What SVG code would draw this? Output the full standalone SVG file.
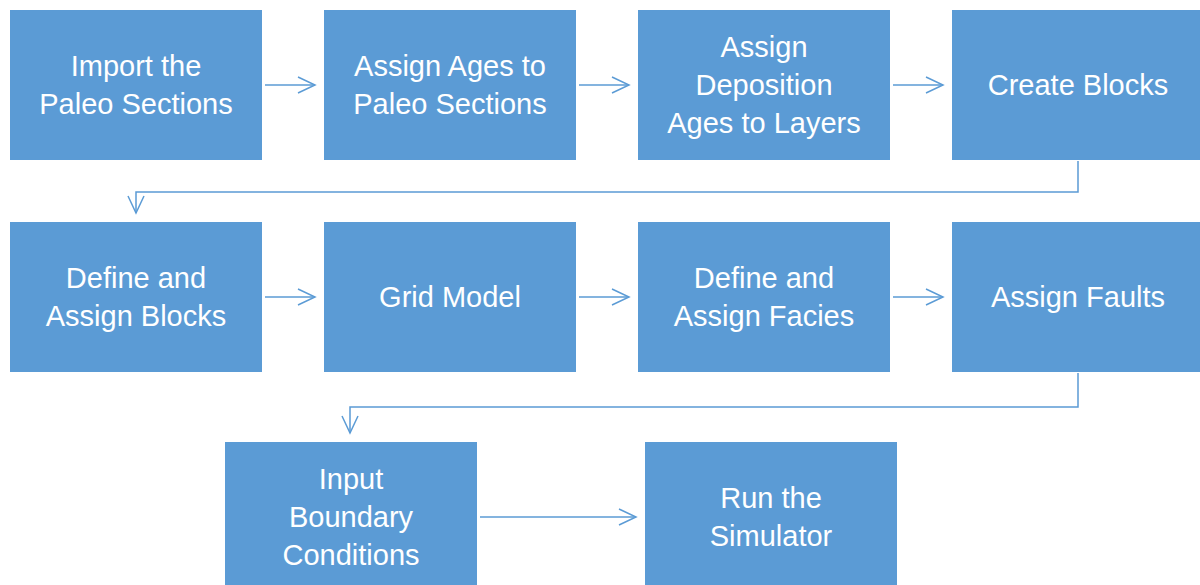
<svg xmlns="http://www.w3.org/2000/svg" width="1200" height="585" viewBox="0 0 1200 585">
<defs>
<style>
.box{fill:#5B9BD5}
.t{font-family:"Liberation Sans",Arial,sans-serif;font-size:29px;fill:#FFFFFF;text-anchor:middle}
.c{fill:none;stroke:#5B9BD5;stroke-width:1.5}
</style>
<marker id="ah" markerUnits="userSpaceOnUse" markerWidth="20" markerHeight="20" refX="18" refY="9" orient="auto" viewBox="0 0 20 18">
<path d="M1,1 L18,9 L1,17" fill="none" stroke="#5B9BD5" stroke-width="1.5"/>
</marker>
</defs>
<rect width="1200" height="585" fill="#FFFFFF"/>
<g id="n1"><rect class="box" x="10" y="10" width="252" height="150"/><text class="t" x="136" y="76">Import the</text><text class="t" x="136" y="114">Paleo Sections</text></g>
<g id="n2"><rect class="box" x="324" y="10" width="252" height="150"/><text class="t" x="450" y="76">Assign Ages to</text><text class="t" x="450" y="114">Paleo Sections</text></g>
<g id="n3"><rect class="box" x="638" y="10" width="252" height="150"/><text class="t" x="764" y="57">Assign</text><text class="t" x="764" y="95">Deposition</text><text class="t" x="764" y="133">Ages to Layers</text></g>
<g id="n4"><rect class="box" x="952" y="10" width="252" height="150"/><text class="t" x="1078" y="95">Create Blocks</text></g>
<g id="n5"><rect class="box" x="10" y="222" width="252" height="150"/><text class="t" x="136" y="288">Define and</text><text class="t" x="136" y="326">Assign Blocks</text></g>
<g id="n6"><rect class="box" x="324" y="222" width="252" height="150"/><text class="t" x="450" y="307">Grid Model</text></g>
<g id="n7"><rect class="box" x="638" y="222" width="252" height="150"/><text class="t" x="764" y="288">Define and</text><text class="t" x="764" y="326">Assign Facies</text></g>
<g id="n8"><rect class="box" x="952" y="222" width="252" height="150"/><text class="t" x="1078" y="307">Assign Faults</text></g>
<g id="n9"><rect class="box" x="225" y="442" width="252" height="150"/><text class="t" x="351" y="489">Input</text><text class="t" x="351" y="527">Boundary</text><text class="t" x="351" y="565">Conditions</text></g>
<g id="n10"><rect class="box" x="645" y="442" width="252" height="150"/><text class="t" x="771" y="508">Run the</text><text class="t" x="771" y="546">Simulator</text></g>
<g id="connectors">
<path class="c" d="M265,85 H315" marker-end="url(#ah)"/>
<path class="c" d="M579,85 H629" marker-end="url(#ah)"/>
<path class="c" d="M893,85 H943" marker-end="url(#ah)"/>
<path class="c" d="M1078,161 V192 H136 V213" marker-end="url(#ah)"/>
<path class="c" d="M265,297 H315" marker-end="url(#ah)"/>
<path class="c" d="M579,297 H629" marker-end="url(#ah)"/>
<path class="c" d="M893,297 H943" marker-end="url(#ah)"/>
<path class="c" d="M1078,373 V407 H350 V433" marker-end="url(#ah)"/>
<path class="c" d="M480,517 H636" marker-end="url(#ah)"/>
</g>
</svg>
